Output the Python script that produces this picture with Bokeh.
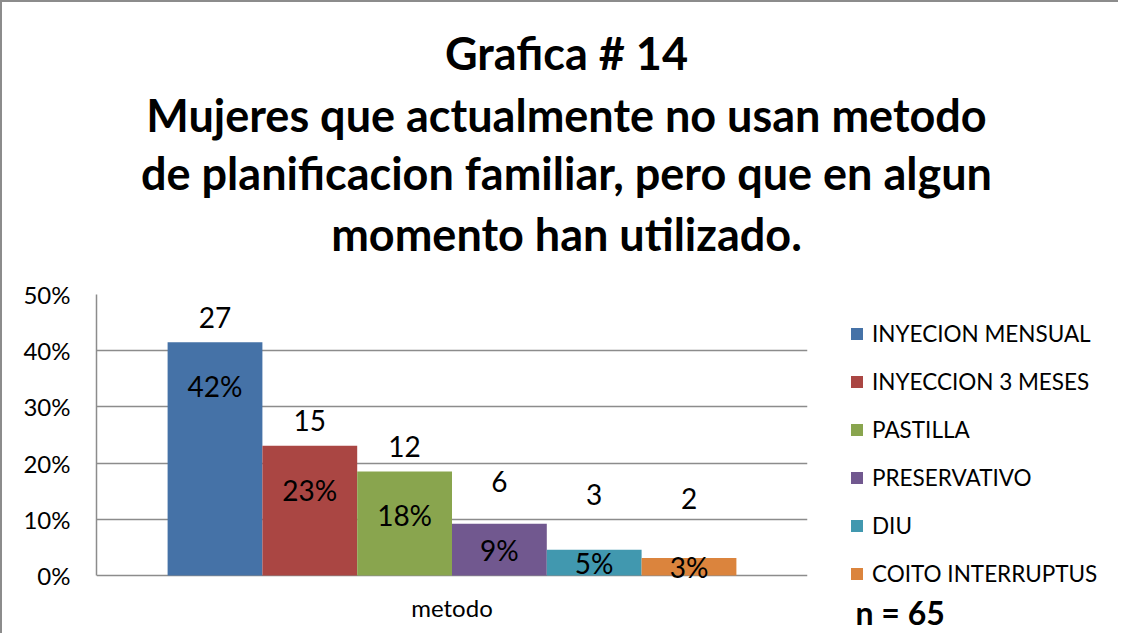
from bokeh.plotting import figure
from bokeh.layouts import column, row
from bokeh.models import (ColumnDataSource, Range1d, FixedTicker, NumeralTickFormatter,
                          Legend, LegendItem, Label)
from bokeh.core.properties import value
from bokeh.embed import file_html
from bokeh.resources import INLINE

# ---- data ----
methods = ["INYECION MENSUAL", "INYECCION 3 MESES", "PASTILLA", "PRESERVATIVO", "DIU",
           "COITO INTERRUPTUS"]
counts = [27, 15, 12, 6, 3, 2]
shares = [0.415, 0.231, 0.185, 0.092, 0.046, 0.031]
share_labels = ["42%", "23%", "18%", "9%", "5%", "3%"]
colors = ["#4572A7", "#AA4643", "#89A54E", "#71588F", "#4198AF", "#DB843D"]
category = "metodo"
y_ticks = [0.0, 0.1, 0.2, 0.3, 0.4, 0.5]
title_lines = ["Grafica # 14",
               "Mujeres que actualmente no usan metodo",
               "de planificacion familiar, pero que en algun",
               "momento han utilizado."]
n_text = "n = 65"

FONT = "Lato"
GRID = "#8c8c8c"


def blank(fig):
    fig.min_border = 0
    fig.outline_line_color = None
    fig.xgrid.grid_line_color = None
    fig.ygrid.grid_line_color = None
    fig.background_fill_color = "white"
    fig.border_fill_color = "white"


# ---------- title panel ----------
pt = figure(width=1116, height=270, output_backend="svg", toolbar_location=None,
            x_range=Range1d(0, 1), y_range=Range1d(0, 1), x_axis_type=None, y_axis_type=None)
blank(pt)
title_y = [220, 158, 100, 39]
for t, ty in zip(title_lines, title_y):
    pt.add_layout(Label(x=564, y=ty, x_units="screen", y_units="screen", text=t,
                        text_align="center", text_baseline="middle", text_font=FONT,
                        text_font_style="bold", text_font_size="45px", text_color="black"))

# ---------- chart panel ----------
idx = list(range(len(methods)))
pct_y = [max(v - 0.078, v / 2) for v in shares]
cnt_y = [py + 0.122 for py in pct_y]
src = ColumnDataSource(dict(x=idx, top=shares, color=colors, method=methods,
                            pct_y=pct_y, cnt_y=cnt_y,
                            pct=share_labels, cnt=[str(c) for c in counts]))
center_x = (len(methods) - 1) / 2
cat_src = ColumnDataSource(dict(x=[center_x], y=[0.0], text=[category]))

# frame: 281 px for 0..0.5, plus 58 px below the zero line
y_low = -58 * 0.5 / 281
p = figure(width=810, height=361, output_backend="svg", toolbar_location=None,
           x_range=Range1d(-1.25, len(methods) + 0.25), y_range=Range1d(y_low, 0.5),
           x_axis_location=None)
p.min_border_left = 94
p.min_border_right = 5
p.min_border_top = 22
p.min_border_bottom = 0
p.outline_line_color = None
p.background_fill_color = "white"
p.border_fill_color = "white"

p.vbar(x="x", top="top", bottom=0, width=1.0, fill_color="color", line_color=None, source=src)
p.text(x="x", y="pct_y", text="pct", source=src, text_align="center", text_baseline="middle",
       text_font=value(FONT), text_font_size="28px", text_color="black")
p.text(x="x", y="cnt_y", text="cnt", source=src, text_align="center", text_baseline="middle",
       text_font=value(FONT), text_font_size="28px", text_color="black")
p.text(x="x", y="y", text="text", source=cat_src, y_offset=32, text_align="center",
       text_baseline="middle", text_font=value(FONT), text_font_size="24px", text_color="black")

p.yaxis.ticker = FixedTicker(ticks=y_ticks)
p.yaxis.formatter = NumeralTickFormatter(format="0%")
p.yaxis.bounds = (0, 0.5)
ax = p.yaxis[0]
ax.axis_line_color = GRID
ax.axis_line_width = 1.5
ax.major_tick_in = 0
ax.major_tick_out = 0
ax.minor_tick_line_color = None
ax.major_label_text_font = FONT
ax.major_label_text_color = "black"
ax.major_label_text_font_size = "24px"
ax.major_label_standoff = 26
p.xgrid.grid_line_color = None
p.ygrid.grid_line_color = GRID
p.ygrid.grid_line_width = 1.5

# ---------- legend panel ----------
pl = figure(width=306, height=361, output_backend="svg", toolbar_location=None,
            x_range=Range1d(100, 101), y_range=Range1d(10, 11), x_axis_type=None, y_axis_type=None)
blank(pl)
rl = pl.vbar(x="x", top="top", bottom=0, width=1.0, fill_color="color", line_color=None,
             source=src)
legend = Legend(items=[LegendItem(label=m, renderers=[rl], index=i) for i, m in enumerate(methods)],
                location=(37, 46), orientation="vertical")
legend.glyph_width = 15
legend.glyph_height = 15
legend.label_height = 20
legend.spacing = 21
legend.padding = 0
legend.margin = 0
legend.label_standoff = 8
legend.label_text_font = FONT
legend.label_text_font_size = "22.5px"
legend.label_text_color = "black"
legend.border_line_color = None
legend.background_fill_alpha = 0
pl.add_layout(legend, "center")
pl.add_layout(Label(x=43, y=21, x_units="screen", y_units="screen", text=n_text,
                    text_align="left", text_baseline="middle", text_font=FONT,
                    text_font_style="bold", text_font_size="32px", text_color="black"))

layout = column(pt, row(p, pl, spacing=0), spacing=0)
layout.styles = {"border-top": f"2px solid {GRID}", "border-left": f"2px solid {GRID}"}

open("out.html", "w").write(file_html(layout, INLINE))
